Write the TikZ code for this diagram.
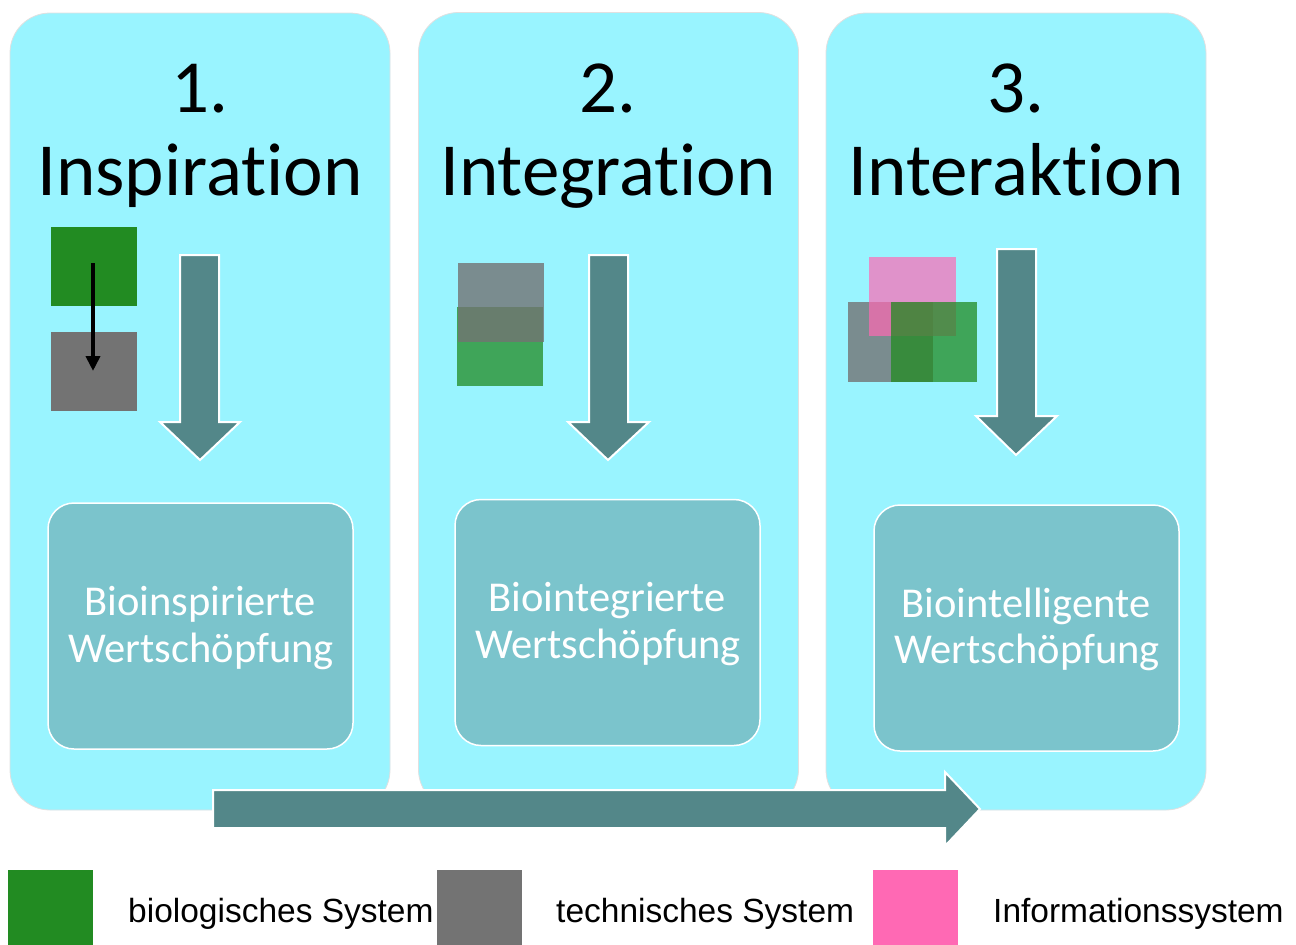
\documentclass[tikz,border=0pt]{standalone}
\usepackage{fontspec}
\usetikzlibrary{arrows.meta}
\setmainfont{Carlito}[Ligatures={NoCommon,NoRare,NoDiscretionary}]
\newfontfamily\legendfont{Liberation Sans}
\definecolor{panelc}{HTML}{99F4FF}
\definecolor{boxc}{HTML}{7BC4CC}
\definecolor{arrowc}{HTML}{538789}
\definecolor{bioc}{HTML}{228B22}
\definecolor{techc}{HTML}{737373}
\definecolor{infoc}{HTML}{FF69B4}
\begin{document}
\begin{tikzpicture}[x=1pt,y=-1pt,
  panel/.style={draw=black!12,line width=0.8pt,fill=panelc,rounded corners=40pt,minimum width=380pt,minimum height=797pt,inner sep=0pt},
  valuebox/.style={draw=white,line width=1.5pt,fill=boxc,rounded corners=26pt,minimum width=305pt,minimum height=246pt,inner sep=0pt},
  title/.style={anchor=base,font=\fontsize{75}{83}\selectfont,inner sep=0pt},
  boxtext/.style={anchor=base,font=\fontsize{42.5}{47}\selectfont,text=white,inner sep=0pt},
  downarrow/.style={fill=arrowc,draw=white,line width=2pt},
  sq/.style={inner sep=0pt,minimum width=86pt,minimum height=79pt,draw=none},
  legsq/.style={inner sep=0pt,minimum width=85pt,minimum height=76pt,anchor=north west},
  legtext/.style={anchor=base west,font=\legendfont\fontsize{33.5}{40}\selectfont,inner sep=0pt}
]
\useasboundingbox (0,0) rectangle (1296,945);
\fill[white] (0,0) rectangle (1296,945);

% panels
\node[panel] (p1) at (200,411.5) {};
\node[panel] (p2) at (608.5,411) {};
\node[panel] (p3) at (1016,411.5) {};

% titles
\node[title] (n1) at (200,112) {1.};
\node[title] (t1) at (200,195) {Inspiration};
\node[title] (n2) at (608,112) {2.};
\node[title] (t2) at (608,195) {Integration};
\node[title] (n3) at (1016,112) {3.};
\node[title] (t3) at (1016,195) {Interaktion};

% down arrows
\draw[downarrow] (180,255) -- (219,255) -- (219,422) -- (240,422) -- (200,460) -- (160,422) -- (180,422) -- cycle;
\draw[downarrow] (589,255) -- (628,255) -- (628,422) -- (649,422) -- (608,460) -- (568,422) -- (589,422) -- cycle;
\draw[downarrow] (997,249) -- (1036,249) -- (1036,416) -- (1057,416) -- (1016,455) -- (976,416) -- (997,416) -- cycle;

% value boxes
\node[valuebox] (b1) at (200.5,626) {};
\node[valuebox] (b2) at (607.5,622.5) {};
\node[valuebox] (b3) at (1026.5,628) {};
\node[boxtext] (b1a) at (200,615) {Bioinspirierte};
\node[boxtext] (b1b) at (201,662) {Wertschöpfung};
\node[boxtext] (b2a) at (607,611) {Biointegrierte};
\node[boxtext] (b2b) at (608,658) {Wertschöpfung};
\node[boxtext] (b3a) at (1026,617) {Biointelligente};
\node[boxtext] (b3b) at (1027,663) {Wertschöpfung};

% panel 1 squares
\node[sq,fill=bioc] (s1g) at (93.5,266.5) {};
\node[sq,fill=techc] (s1t) at (94,371.5) {};
\coordinate (a1s) at (93,263);
\coordinate (a1e) at (93,371);
\draw[line width=4pt,-{Triangle[width=14pt,length=15pt]}] (a1s) -- (a1e);

% panel 2 squares
\node[sq,fill=bioc,fill opacity=0.75] (s2g) at (500,346.5) {};
\node[sq,fill=techc,fill opacity=0.8] (s2t) at (500.5,302.5) {};

% panel 3 squares
\node[sq,fill=techc,fill opacity=0.8,minimum width=85pt,minimum height=80pt] (s3t) at (890.5,342) {};
\node[sq,fill=infoc,fill opacity=0.7,minimum width=87pt] (s3i) at (912.5,296.5) {};
\node[sq,fill=bioc,fill opacity=0.75,minimum width=86pt,minimum height=80pt] (s3g) at (934,342) {};

% big arrow
\draw[fill=arrowc,draw=white,line width=2pt] (213,790) -- (945,790) -- (945,772) -- (980,809) -- (945,846) -- (945,828) -- (213,828) -- cycle;

% legend
\node[legsq,fill=bioc] (l1) at (8,870) {};
\node[legtext] (lt1) at (128,922) {biologisches System};
\node[legsq,fill=techc] (l2) at (437,870) {};
\node[legtext] (lt2) at (556,922) {technisches System};
\node[legsq,fill=infoc] (l3) at (873,870) {};
\node[legtext] (lt3) at (993,922) {Informationssystem};
\end{tikzpicture}
\end{document}
